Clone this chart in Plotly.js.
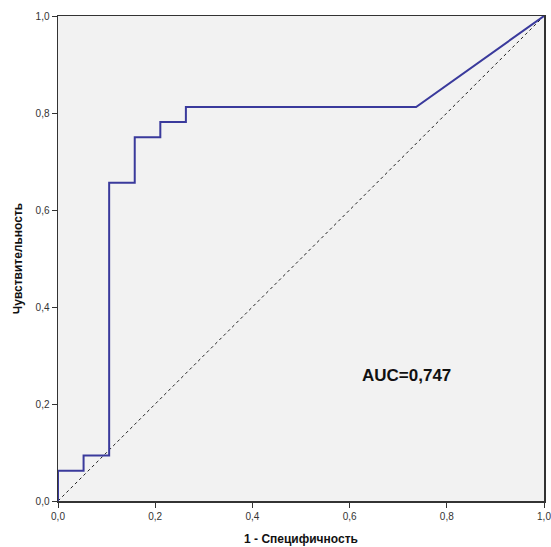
<!DOCTYPE html>
<html><head><meta charset="utf-8">
<script src="https://cdn.plot.ly/plotly-3.0.1.min.js"></script>
<style>body{margin:0;background:#fff}#c{width:551px;height:547px}</style>
</head><body><div id="c"></div>
<script>
const fpr = [0, 0, 1/19, 1/19, 2/19, 2/19, 3/19, 3/19, 4/19, 4/19, 5/19, 5/19, 14/19, 1];
const tpr = [0, 2/32, 2/32, 3/32, 3/32, 21/32, 21/32, 24/32, 24/32, 25/32, 25/32, 26/32, 26/32, 1];
const refX = [0, 1];
const refY = [0, 1];
const aucLabel = "AUC=0,747";
const tickVals = [0, 0.2, 0.4, 0.6, 0.8, 1.0];

const traces = [
  {x: refX, y: refY, mode: 'lines', line: {color: '#222', width: 1, dash: 'dot'}, hoverinfo: 'skip'},
  {x: fpr, y: tpr, mode: 'lines', line: {color: '#3a3a9c', width: 2}}
];
const axisCommon = {
  range: [0, 1], tickvals: tickVals, tickformat: '.1f',
  ticks: 'outside', ticklen: 5, tickcolor: '#333', tickwidth: 1,
  showgrid: false, zeroline: false,
  showline: true, linecolor: '#333', linewidth: 1.5, mirror: true,
  ticklabeloverflow: 'allow',
  tickfont: {family: 'Liberation Sans, Arial, sans-serif', size: 10, color: '#333'},
  fixedrange: true
};
const layout = {
  width: 551, height: 547,
  margin: {l: 58, r: 7, t: 16, b: 46},
  paper_bgcolor: '#ffffff', plot_bgcolor: '#f2f2f2',
  separators: ', ',
  showlegend: false,
  xaxis: Object.assign({}, axisCommon, {
    title: {text: '1 - Специфичность', font: {family: 'Liberation Sans, Arial, sans-serif', size: 12, color: '#111', weight: 'bold'}, standoff: 14}
  }),
  yaxis: Object.assign({}, axisCommon, {
    title: {text: 'Чувствительность', font: {family: 'Liberation Sans, Arial, sans-serif', size: 12, color: '#111', weight: 'bold'}, standoff: 10}
  }),
  annotations: [{
    x: 0.718, y: 0.259, xref: 'x', yref: 'y', text: '<b>' + aucLabel + '</b>', showarrow: false,
    font: {family: 'Liberation Sans, Arial, sans-serif', size: 17, color: '#111'}
  }]
};
Plotly.newPlot('c', traces, layout, {displayModeBar: false, staticPlot: true});
</script></body></html>
